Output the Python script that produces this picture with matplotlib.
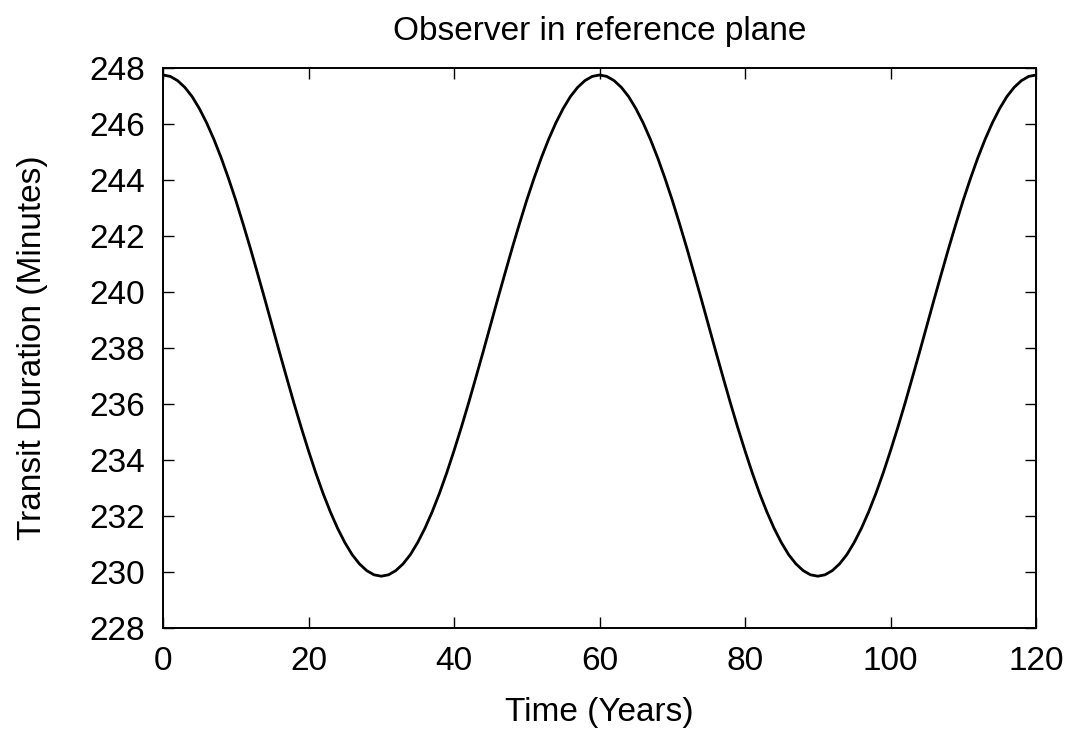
import matplotlib
matplotlib.use('Agg')
import matplotlib.pyplot as plt
import numpy as np

plt.rcParams['font.family'] = ['Liberation Sans', 'DejaVu Sans']

# time in years, one sample per year
years = list(range(0, 121))

# transit duration (minutes)
duration = [
    247.75, 247.70, 247.55, 247.31, 246.98, 246.55, 246.04, 245.45, 244.79, 244.06,
    243.28, 242.44, 241.57, 240.66, 239.74, 238.80, 237.86, 236.94, 236.03, 235.16,
    234.33, 233.54, 232.81, 232.15, 231.56, 231.05, 230.62, 230.29, 230.05, 229.90,
    229.85, 229.90, 230.05, 230.29, 230.62, 231.05, 231.56, 232.15, 232.81, 233.54,
    234.33, 235.16, 236.03, 236.94, 237.86, 238.80, 239.74, 240.66, 241.57, 242.44,
    243.28, 244.06, 244.79, 245.45, 246.04, 246.55, 246.98, 247.31, 247.55, 247.70,
    247.75, 247.70, 247.55, 247.31, 246.98, 246.55, 246.04, 245.45, 244.79, 244.06,
    243.28, 242.44, 241.57, 240.66, 239.74, 238.80, 237.86, 236.94, 236.03, 235.16,
    234.33, 233.54, 232.81, 232.15, 231.56, 231.05, 230.62, 230.29, 230.05, 229.90,
    229.85, 229.90, 230.05, 230.29, 230.62, 231.05, 231.56, 232.15, 232.81, 233.54,
    234.33, 235.16, 236.03, 236.94, 237.86, 238.80, 239.74, 240.66, 241.57, 242.44,
    243.28, 244.06, 244.79, 245.45, 246.04, 246.55, 246.98, 247.31, 247.55, 247.70,
    247.75,
]

x_ticks = [0, 20, 40, 60, 80, 100, 120]
y_ticks = [228, 230, 232, 234, 236, 238, 240, 242, 244, 246, 248]

fig = plt.figure(figsize=(10.7, 7.32), dpi=100)
ax = fig.add_axes([163/1070, 1-628/732, (1036-163)/1070, (628-68)/732])

ax.plot(years, duration, color='black', lw=2.0)

ax.set_xlim(0, 120)
ax.set_ylim(228, 248)
ax.set_xticks(x_ticks)
ax.set_yticks(y_ticks)
ax.tick_params(direction='in', length=8, width=1, top=True, right=True,
               labelsize=24, pad=13)
for s in ax.spines.values():
    s.set_linewidth(1.4)

ax.set_xlabel('Time (Years)', fontsize=24, labelpad=14)
ax.set_ylabel('Transit Duration (Minutes)', fontsize=24, labelpad=30)
ax.set_title('Observer in reference plane', fontsize=24, pad=20)

fig.savefig('out.png', dpi=100)
